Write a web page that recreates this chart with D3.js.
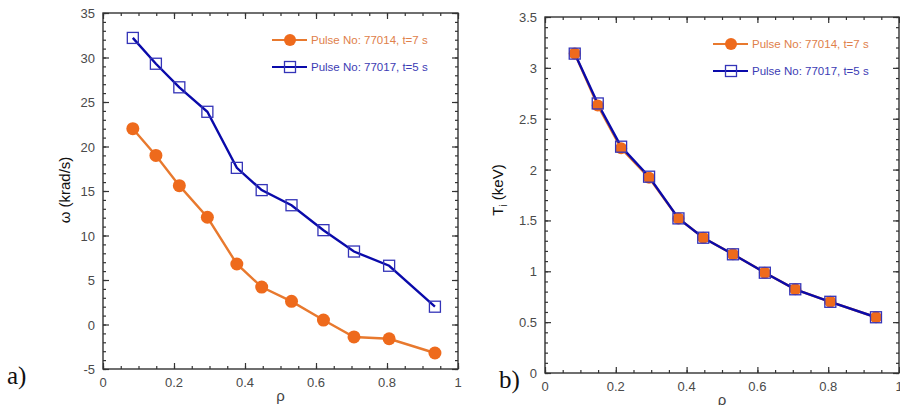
<!DOCTYPE html>
<html>
<head>
<meta charset="utf-8">
<script src="https://cdn.jsdelivr.net/npm/d3@7"></script>
<style>
  body { margin: 0; background: #fff; }
  svg { display: block; }
</style>
</head>
<body>
<div id="chart"></div>
<script>
(function () {
  // rho positions of the measurement points
  const rho = [0.084, 0.149, 0.215, 0.294, 0.377, 0.447, 0.531, 0.621, 0.707, 0.806, 0.935];
  // a) rotation frequency (krad/s)
  const omega77014 = [22.0, 19.0, 15.6, 12.05, 6.8, 4.2, 2.6, 0.5, -1.4, -1.6, -3.2];
  const omega77017 = [32.2, 29.3, 26.65, 23.9, 17.6, 15.1, 13.4, 10.6, 8.2, 6.6, 2.0];
  // b) ion temperature (keV)
  const ti77014 = [3.14, 2.63, 2.21, 1.92, 1.52, 1.33, 1.167, 0.986, 0.823, 0.70, 0.548];
  const ti77017 = [3.14, 2.65, 2.225, 1.93, 1.52, 1.33, 1.167, 0.986, 0.823, 0.70, 0.548];

  const series = ["Pulse No: 77014, t=7 s", "Pulse No: 77017, t=5 s"];
  const xTicks = [0, 0.2, 0.4, 0.6, 0.8, 1];
  const omegaTicks = [-5, 0, 5, 10, 15, 20, 25, 30, 35];
  const tiTicks = [0, 0.5, 1, 1.5, 2, 2.5, 3, 3.5];

  const orange = "#ee6a1c";
  const orangeLine = "#e8792e";
  const blue = "#0a0aaa";
  const blueMark = "#3434b8";

  const width = 900, height = 405;
  const svg = d3.select("#chart").append("svg")
    .attr("width", width)
    .attr("height", height);

  function panel(opt) {
    const x = d3.scaleLinear().domain([0, 1]).range([opt.left, opt.right]);
    const y = d3.scaleLinear().domain(opt.yDomain).range([opt.bottom, opt.top]);
    const g = svg.append("g");

    const tick = (sel) => sel.selectAll("path").remove();
    const xMinor = d3.range(0, 1.0001, 0.05);
    const yMinor = d3.range(opt.yDomain[0], opt.yDomain[1] + 1e-6, opt.yMinor);

    // minor ticks
    [["b", d3.axisBottom(x), opt.bottom], ["t", d3.axisTop(x), opt.top]].forEach(([k, ax, pos]) => {
      g.append("g").attr("transform", `translate(0,${pos})`)
        .call(ax.tickValues(xMinor).tickSize(k === "b" ? -3 : -3).tickFormat(""))
        .call(tick);
      g.append("g").attr("transform", `translate(0,${pos})`)
        .call((k === "b" ? d3.axisBottom(x) : d3.axisTop(x)).tickValues(xTicks).tickSize(-6).tickFormat(""))
        .call(tick);
    });
    [["l", opt.left], ["r", opt.right]].forEach(([k, pos]) => {
      const mk = () => k === "l" ? d3.axisLeft(y) : d3.axisRight(y);
      g.append("g").attr("transform", `translate(${pos},0)`)
        .call(mk().tickValues(yMinor).tickSize(-3).tickFormat(""))
        .call(tick);
      g.append("g").attr("transform", `translate(${pos},0)`)
        .call(mk().tickValues(opt.yTicks).tickSize(-6).tickFormat(""))
        .call(tick);
    });
    g.selectAll(".tick line").attr("stroke", "#333").attr("stroke-width", 1.2);

    // tick labels
    g.selectAll(".xlab").data(xTicks).enter().append("text")
      .attr("x", d => x(d)).attr("y", opt.bottom + 18)
      .attr("text-anchor", "middle")
      .style("font", "13px 'Liberation Sans', Arial, sans-serif")
      .style("fill", "#4a4a4a")
      .text(d => d);
    g.selectAll(".ylab").data(opt.yTicks).enter().append("text")
      .attr("x", opt.left - 8).attr("y", d => y(d) + 5)
      .attr("text-anchor", "end")
      .style("font", "13px 'Liberation Sans', Arial, sans-serif")
      .style("fill", "#4a4a4a")
      .text(d => d);

    // frame
    g.append("rect")
      .attr("x", opt.left).attr("y", opt.top)
      .attr("width", opt.right - opt.left).attr("height", opt.bottom - opt.top)
      .attr("fill", "none").attr("stroke", "#333").attr("stroke-width", 1.4);

    const line = d3.line().x((d, i) => x(rho[i])).y(d => y(d));
    g.append("path").datum(opt.a).attr("d", line)
      .attr("fill", "none").attr("stroke", orangeLine).attr("stroke-width", 2.4);
    g.append("path").datum(opt.b).attr("d", line)
      .attr("fill", "none").attr("stroke", blue).attr("stroke-width", 2.4);

    g.selectAll(".dot").data(opt.a).enter().append("circle")
      .attr("cx", (d, i) => x(rho[i])).attr("cy", d => y(d))
      .attr("r", opt.r).attr("fill", orange);
    g.selectAll(".sq").data(opt.b).enter().append("rect")
      .attr("x", (d, i) => x(rho[i]) - 5.5).attr("y", d => y(d) - 5.5)
      .attr("width", 11).attr("height", 11)
      .attr("fill", "none").attr("stroke", blueMark).attr("stroke-width", 1.3);

    // legend
    const lg = g.append("g");
    [0, 1].forEach(i => {
      const ly = opt.legY + i * 27;
      lg.append("line")
        .attr("x1", opt.legX).attr("x2", opt.legX + 35)
        .attr("y1", ly).attr("y2", ly)
        .attr("stroke", i === 0 ? orangeLine : blue).attr("stroke-width", 2.2);
      if (i === 0) {
        lg.append("circle").attr("cx", opt.legX + 18).attr("cy", ly).attr("r", 6).attr("fill", orange);
      } else {
        lg.append("rect").attr("x", opt.legX + 12.5).attr("y", ly - 5.5)
          .attr("width", 11).attr("height", 11)
          .attr("fill", "none").attr("stroke", blueMark).attr("stroke-width", 1.3);
      }
      lg.append("text")
        .attr("x", opt.legX + 39).attr("y", ly + 4)
        .style("font", "11.5px 'Liberation Sans', Arial, sans-serif")
        .style("fill", i === 0 ? "#e0804a" : "#3c3cb4")
        .text(series[i]);
    });

    // axis titles
    svg.append("text")
      .attr("x", (opt.left + opt.right) / 2).attr("y", opt.bottom + 32)
      .attr("text-anchor", "middle")
      .style("font", "15px 'Liberation Sans', Arial, sans-serif")
      .style("fill", "#444")
      .text("ρ");
    const yt = svg.append("text")
      .attr("transform", `translate(${opt.yTitleX},${opt.yTitleY}) rotate(-90)`)
      .attr("text-anchor", "middle")
      .style("font", "15px 'Liberation Sans', Arial, sans-serif")
      .style("fill", "#111");
    opt.yTitle(yt);

    svg.append("text")
      .attr("x", opt.tagX).attr("y", opt.tagY)
      .style("font", "25px 'Liberation Serif', 'DejaVu Serif', serif")
      .style("fill", "#111")
      .text(opt.tag);
  }

  panel({
    left: 103, right: 458, top: 13, bottom: 369,
    yDomain: [-5, 35], yTicks: omegaTicks, yMinor: 1,
    a: omega77014, b: omega77017, r: 6.5,
    legX: 272, legY: 40,
    yTitleX: 70, yTitleY: 190,
    yTitle: t => t.text("ω (krad/s)"),
    tag: "a)", tagX: 7, tagY: 384
  });

  panel({
    left: 545, right: 899, top: 17, bottom: 373,
    yDomain: [0, 3.5], yTicks: tiTicks, yMinor: 0.1,
    a: ti77014, b: ti77017, r: 6,
    legX: 713, legY: 44,
    yTitleX: 503, yTitleY: 190,
    yTitle: t => {
      t.append("tspan").text("T");
      t.append("tspan").attr("dy", 4).style("font-size", "10px").text("i");
      t.append("tspan").attr("dy", -4).text(" (keV)");
    },
    tag: "b)", tagX: 499, tagY: 388
  });
})();
</script>
</body>
</html>
